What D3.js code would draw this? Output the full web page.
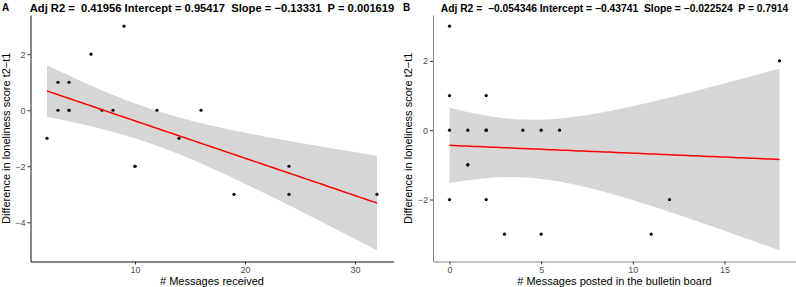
<!DOCTYPE html>
<html>
<head>
<meta charset="utf-8">
<script src="https://cdn.jsdelivr.net/npm/d3@7"></script>
<style>
  body { margin: 0; background: #fff; }
  svg { display: block; font-family: "Liberation Sans", Arial, sans-serif; }
  .tick text { fill: #4d4d4d; font-size: 9px; }
  .ptitle { font-weight: bold; white-space: pre; }
  .tag { font-weight: bold; font-size: 10px; }
  .atitle { font-size: 11px; fill: #000; }
</style>
</head>
<body>
<div id="chart"></div>
<script>
// panel A: messages received vs change in loneliness
const msgsReceived = [2, 3, 3, 4, 4, 4, 6, 7, 8, 9, 10, 10, 12, 14, 16, 19, 24, 24, 32];
const lonelinessA  = [-1, 1, 0, 1, 0, 0, 2, 0, 0, 3, -2, -2, 0, -1, 0, -3, -2, -3, -3];

// panel B: messages posted in the bulletin board vs change in loneliness
const msgsPosted  = [0, 0, 0, 0, 1, 1, 1, 2, 2, 2, 2, 3, 4, 5, 5, 6, 11, 12, 18];
const lonelinessB = [3, 1, 0, -2, 0, -1, -1, 1, 0, -2, 0, -3, 0, 0, -3, 0, -3, -2, 2];

const tags = ['A', 'B'];
const titles = [
  'Adj R2 =  0.41956 Intercept = 0.95417  Slope = \u22120.13331  P = 0.001619',
  'Adj R2 =  \u22120.054346 Intercept = \u22120.43741  Slope = \u22120.022524  P = 0.7914'
];
const xLabels = ['# Messages received', '# Messages posted in the bulletin board'];
const yLabel = 'Difference in loneliness score t2\u2212t1';
const xTicksA = [10, 20, 30];
const yTicksA = [-4, -2, 0, 2];
const xTicksB = [0, 5, 10, 15];
const yTicksB = [-2, 0, 2];

// 97.5% t quantiles for the 95% band
const tQuant = {17: 2.109816, 18: 2.100922};

const W = 796, H = 287;
const svg = d3.select('#chart').append('svg').attr('width', W).attr('height', H);

function fitLm(xs, ys) {
  const n = xs.length;
  const mx = d3.mean(xs), my = d3.mean(ys);
  const sxx = d3.sum(xs, x => (x - mx) ** 2);
  const sxy = d3.sum(xs, (x, i) => (x - mx) * (ys[i] - my));
  const b = sxy / sxx, a = my - b * mx;
  const rss = d3.sum(xs, (x, i) => (ys[i] - a - b * x) ** 2);
  const s = Math.sqrt(rss / (n - 2));
  const t = tQuant[n - 2];
  const [lo, hi] = d3.extent(xs);
  const grid = d3.range(80).map(i => lo + i * (hi - lo) / 79);
  return grid.map(x => {
    const fit = a + b * x;
    const se = s * Math.sqrt(1 / n + (x - mx) ** 2 / sxx);
    return {x, fit, ymin: fit - t * se, ymax: fit + t * se};
  });
}

function expand([a, b]) {
  const d = (b - a) * 0.05;
  return [a - d, b + d];
}

function drawPanel(p) {
  const band = fitLm(p.xs, p.ys);
  const x = d3.scaleLinear().domain(expand(d3.extent(p.xs))).range([p.left, p.right]);
  const yExt = d3.extent(p.ys.concat(band.map(d => d.ymin), band.map(d => d.ymax)));
  const y = d3.scaleLinear().domain(expand(yExt)).range([p.bottom, p.top]);
  const g = svg.append('g');

  g.append('path')
    .datum(band)
    .attr('fill', '#d6d6d6')
    .attr('d', d3.area().x(d => x(d.x)).y0(d => y(d.ymin)).y1(d => y(d.ymax)));

  g.selectAll('circle')
    .data(p.xs)
    .enter()
    .append('circle')
    .attr('cx', d => x(d))
    .attr('cy', (d, i) => y(p.ys[i]))
    .attr('r', 1.6)
    .attr('fill', '#000');

  g.append('path')
    .datum(band)
    .attr('fill', 'none')
    .attr('stroke', '#ff0000')
    .attr('stroke-width', 1.5)
    .attr('d', d3.line().x(d => x(d.x)).y(d => y(d.fit)));

  const fmt = d3.format('d');
  const ax = g.append('g')
    .attr('transform', `translate(0, ${p.bottom})`)
    .call(d3.axisBottom(x).tickValues(p.xTicks).tickFormat(fmt).tickSize(3).tickSizeOuter(0).tickPadding(2));
  const ay = g.append('g')
    .attr('transform', `translate(${p.left}, 0)`)
    .call(d3.axisLeft(y).tickValues(p.yTicks).tickFormat(fmt).tickSize(3).tickSizeOuter(0).tickPadding(2));
  [ax, ay].forEach(a => {
    a.select('.domain').attr('stroke', p.axisColor);
    a.selectAll('.tick line').attr('stroke', '#333');
    a.attr('font-family', null).attr('font-size', null);
  });

  g.append('text')
    .attr('class', 'tag')
    .attr('x', p.tagX).attr('y', 11)
    .text(p.tag);
  g.append('text')
    .attr('class', 'ptitle')
    .attr('x', (p.left + p.right) / 2).attr('y', 12)
    .attr('text-anchor', 'middle')
    .style('font-size', p.titleSize + 'px')
    .text(p.title);
  g.append('text')
    .attr('class', 'atitle')
    .attr('x', (p.left + p.right) / 2).attr('y', 285)
    .attr('text-anchor', 'middle')
    .text(p.xLabel);
  g.append('text')
    .attr('class', 'atitle')
    .attr('transform', `translate(${p.left - 21}, ${(p.top + p.bottom) / 2}) rotate(-90)`)
    .attr('text-anchor', 'middle')
    .text(yLabel);
}

drawPanel({
  xs: msgsReceived, ys: lonelinessA, xTicks: xTicksA, yTicks: yTicksA,
  left: 30.5, right: 393.5, top: 15, bottom: 261.5,
  tag: tags[0], tagX: 2, title: titles[0], titleSize: 11.2,
  xLabel: xLabels[0], axisColor: '#111'
});
drawPanel({
  xs: msgsPosted, ys: lonelinessB, xTicks: xTicksB, yTicks: yTicksB,
  left: 433, right: 796, top: 15, bottom: 261.5,
  tag: tags[1], tagX: 403, title: titles[1], titleSize: 10.3,
  xLabel: xLabels[1], axisColor: '#888'
});
</script>
</body>
</html>
